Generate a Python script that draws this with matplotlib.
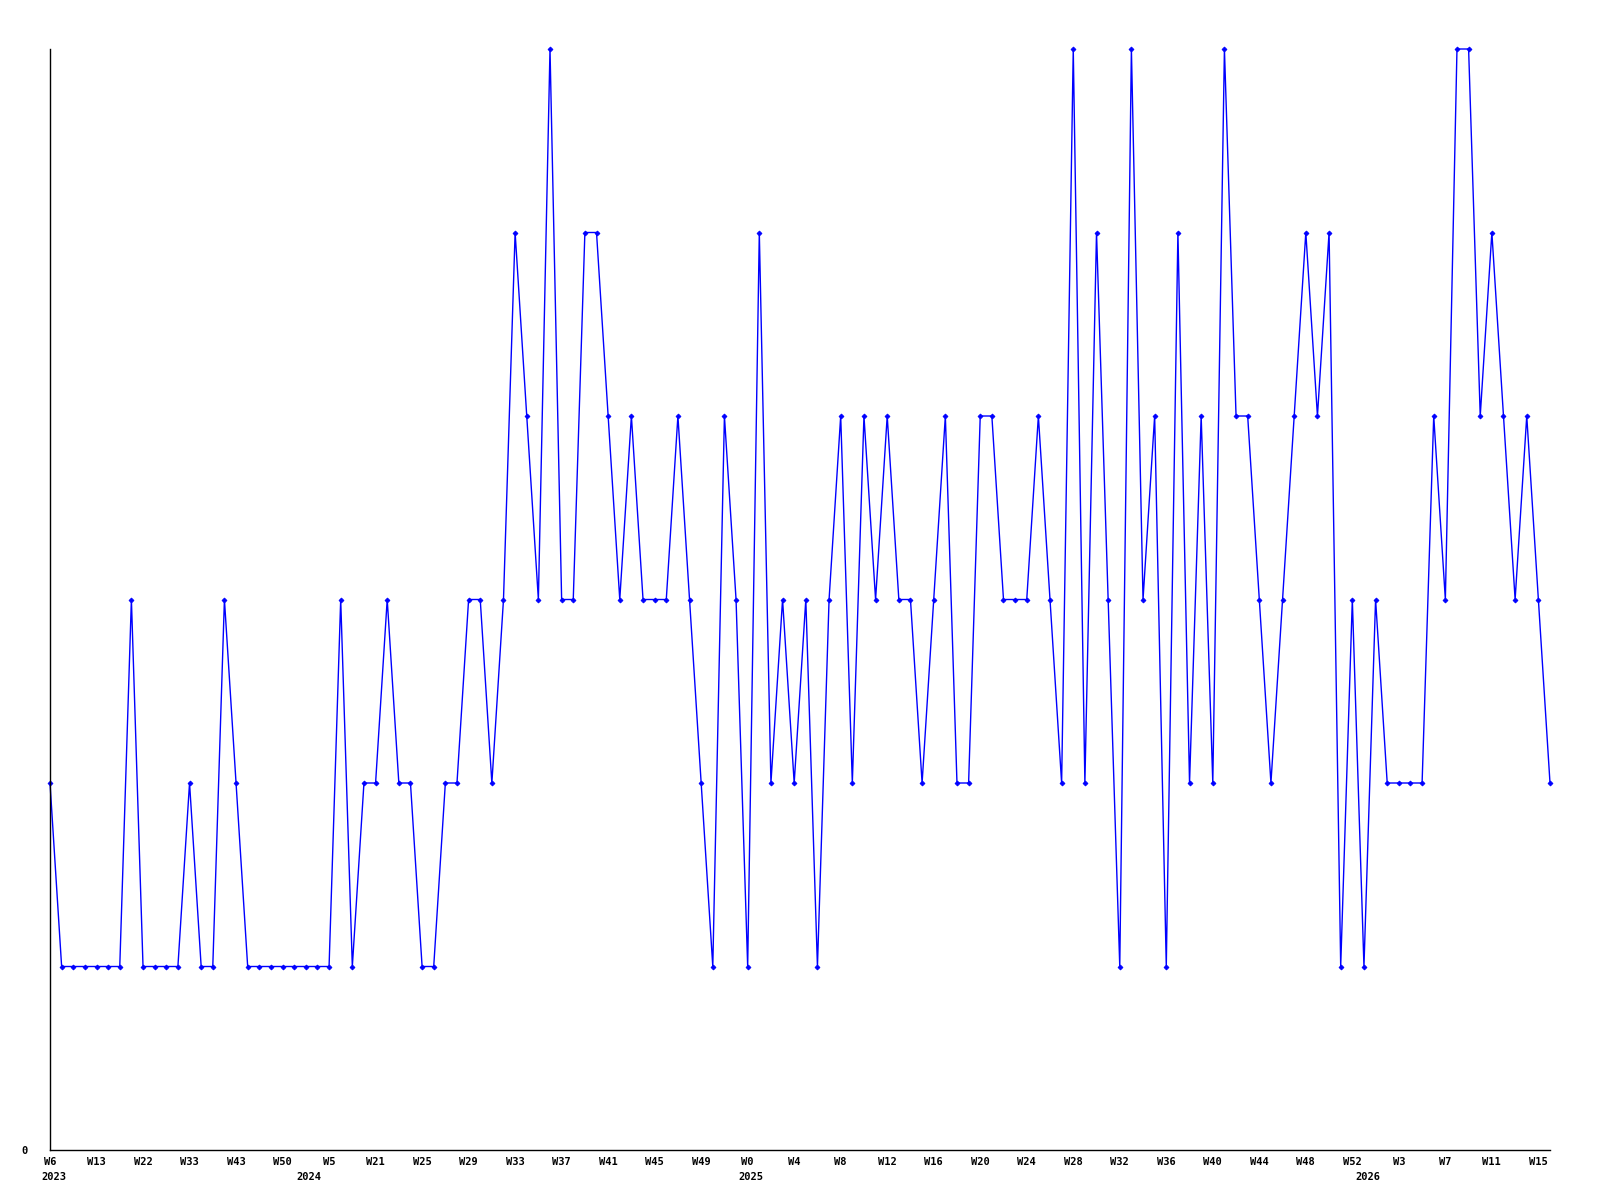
import matplotlib
matplotlib.use("Agg")
import matplotlib.pyplot as plt
import numpy as np

# weekly counts, one per week shown on the chart
counts = [
    2, 1, 1, 1, 1, 1, 1, 3, 1, 1, 1, 1, 2, 1, 1, 3, 2, 1, 1, 1,
    1, 1, 1, 1, 1, 3, 1, 2, 2, 3, 2, 2, 1, 1, 2, 2, 3, 3, 2, 3,
    5, 4, 3, 6, 3, 3, 5, 5, 4, 3, 4, 3, 3, 3, 4, 3, 2, 1, 4, 3,
    1, 5, 2, 3, 2, 3, 1, 3, 4, 2, 4, 3, 4, 3, 3, 2, 3, 4, 2, 2,
    4, 4, 3, 3, 3, 4, 3, 2, 6, 2, 5, 3, 1, 6, 3, 4, 1, 5, 2, 4,
    2, 6, 4, 4, 3, 2, 3, 4, 5, 4, 5, 1, 3, 1, 3, 2, 2, 2, 2, 4,
    3, 6, 6, 4, 5, 4, 3, 4, 3, 2,
]

# labels shown every 4th week
week_labels = [
    "W6", "W13", "W22", "W33", "W43", "W50", "W5", "W21", "W25", "W29",
    "W33", "W37", "W41", "W45", "W49", "W0", "W4", "W8", "W12", "W16",
    "W20", "W24", "W28", "W32", "W36", "W40", "W44", "W48", "W52", "W3",
    "W7", "W11", "W15",
]
label_step = 4

years = ["2023", "2024", "2025", "2026"]
year_pos = [0, 22, 60, 113]

font = {"family": "DejaVu Sans Mono", "weight": "bold", "size": 7.5}

fig = plt.figure(figsize=(16, 12), dpi=100)
ax = fig.add_axes([50 / 1600, 1 - 1150 / 1200, 1500 / 1600, 1101 / 1200])

x = np.arange(len(counts))
ax.plot(x, counts, color="#0000ff", linewidth=1.0, marker="D", markersize=2.5,
        markeredgewidth=0.6, clip_on=False)

ax.set_xlim(0, len(counts) - 1)
ax.set_ylim(0, max(counts))

for side in ["top", "right"]:
    ax.spines[side].set_visible(False)
for side in ["left", "bottom"]:
    ax.spines[side].set_color("black")
    ax.spines[side].set_linewidth(1.0)

ax.set_yticks([0])
ax.set_yticklabels(["0"], fontdict=font)
ax.tick_params(axis="y", length=0, pad=16)

ax.set_xticks(x[::label_step])
ax.set_xticklabels(week_labels, fontdict=font)
ax.tick_params(axis="x", length=0, pad=5)

for yr, pos in zip(years, year_pos):
    ax.annotate(yr, xy=(pos + 0.3, 0), xycoords=("data", "axes fraction"),
                xytext=(0, -16), textcoords="offset points", ha="center",
                va="top", **font)

fig.savefig("out.png", dpi=100)
